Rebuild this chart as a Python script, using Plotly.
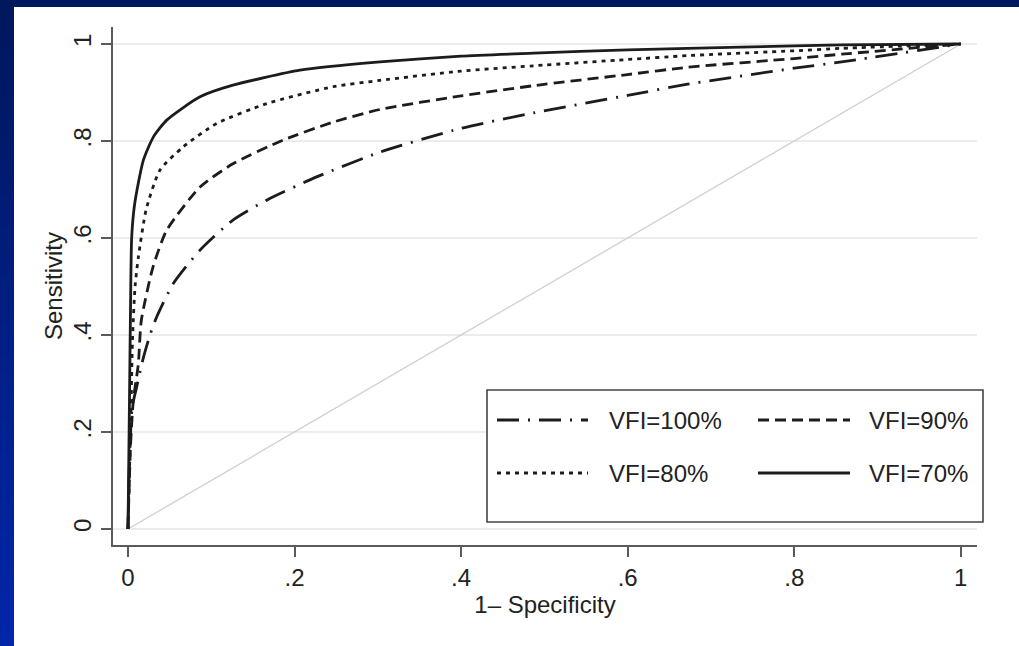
import plotly.graph_objects as go

# ---------------- data ----------------
tick_vals = [0, 0.2, 0.4, 0.6, 0.8, 1]
tick_text = ["0", ".2", ".4", ".6", ".8", "1"]

series_names = ["VFI=100%", "VFI=90%", "VFI=80%", "VFI=70%"]

fpr_100 = [0, 0.002, 0.005, 0.0104, 0.018, 0.0264, 0.0344, 0.0544, 0.0865, 0.126,
           0.1666, 0.2266, 0.3026, 0.40, 0.487, 0.60, 0.672, 0.80, 0.857, 1.0]
tpr_100 = [0, 0.15, 0.25, 0.293, 0.35, 0.40, 0.437, 0.506, 0.575, 0.637,
           0.678, 0.726, 0.777, 0.826, 0.858, 0.894, 0.917, 0.950, 0.963, 1.0]

fpr_90 = [0, 0.003, 0.0064, 0.0124, 0.016, 0.03, 0.0465, 0.0865, 0.126, 0.1865,
          0.2466, 0.3026, 0.40, 0.487, 0.60, 0.672, 0.80, 0.857, 1.0]
tpr_90 = [0, 0.17, 0.265, 0.34, 0.43, 0.54, 0.616, 0.705, 0.753, 0.802,
          0.839, 0.865, 0.893, 0.914, 0.937, 0.952, 0.970, 0.979, 1.0]

fpr_80 = [0, 0.003, 0.0056, 0.0085, 0.0124, 0.022, 0.0384, 0.0664, 0.1065, 0.1666,
          0.2466, 0.3026, 0.40, 0.487, 0.60, 0.672, 0.80, 0.857, 1.0]
tpr_80 = [0, 0.20, 0.40, 0.50, 0.56, 0.66, 0.74, 0.788, 0.836, 0.877,
          0.912, 0.925, 0.944, 0.955, 0.968, 0.976, 0.986, 0.991, 1.0]

fpr_70 = [0, 0.002, 0.003, 0.0044, 0.008, 0.0184, 0.0304, 0.0465, 0.0865, 0.126,
          0.2066, 0.3026, 0.40, 0.487, 0.60, 0.672, 0.80, 0.857, 1.0]
tpr_70 = [0, 0.30, 0.45, 0.60, 0.67, 0.76, 0.808, 0.843, 0.891, 0.915,
          0.946, 0.963, 0.975, 0.981, 0.988, 0.991, 0.996, 0.998, 1.0]

ref_x = [0, 1]
ref_y = [0, 1]

# ---------------- styling ----------------
FONT = "Liberation Sans, Arial, Helvetica, sans-serif"
INK = "#1c1c1c"
dashes = {
    "VFI=100%": "22px,9px,2px,9px",
    "VFI=90%": "11px,6px",
    "VFI=80%": "4px,5px",
    "VFI=70%": "solid",
}

W, H = 1019, 646
ML, MR, MT, MB = 113, 42, 27, 101
PW, PH = W - ML - MR, H - MT - MB


def px_x(p):
    return (p - ML) / PW


def px_y(p):
    return (H - MB - p) / PH


fig = go.Figure()

fig.add_trace(go.Scatter(x=ref_x, y=ref_y, mode="lines",
                         line=dict(color="#cfcfcf", width=1.3),
                         showlegend=False, hoverinfo="skip"))

curves = [(fpr_100, tpr_100, "VFI=100%"), (fpr_90, tpr_90, "VFI=90%"),
          (fpr_80, tpr_80, "VFI=80%"), (fpr_70, tpr_70, "VFI=70%")]
for xs, ys, name in curves:
    fig.add_trace(go.Scatter(x=xs, y=ys, mode="lines", name=name,
                             line=dict(color=INK, width=2.8, dash=dashes[name],
                                       shape="spline", smoothing=0.6),
                             showlegend=False))

shapes = []
# blue frame (stepped gradient) on left and top edges; segments overlap to avoid seams
n = 40
seg = H / n
for i in range(n):
    t = i / (n - 1)
    r, g, b = 0, int(24 + t * 14), int(92 + t * 78)
    shapes.append(dict(type="rect", xref="paper", yref="paper",
                       x0=px_x(0), x1=px_x(14),
                       y0=px_y(min(H, seg * (i + 1) + 3)), y1=px_y(seg * i),
                       fillcolor=f"rgb({r},{g},{b})", line=dict(width=0),
                       layer="below"))
shapes.append(dict(type="rect", xref="paper", yref="paper",
                   x0=px_x(0), x1=px_x(W), y0=px_y(7), y1=px_y(0),
                   fillcolor="rgb(0,24,92)", line=dict(width=0), layer="below"))

# legend box
shapes.append(dict(type="rect", xref="paper", yref="paper",
                   x0=px_x(487), x1=px_x(983), y0=px_y(522), y1=px_y(390),
                   fillcolor="white", line=dict(color="#444444", width=1.6),
                   layer="above"))

legend_layout = [("VFI=100%", 497, 588, 607, 420), ("VFI=90%", 758, 850, 867, 420),
                 ("VFI=80%", 497, 588, 607, 473), ("VFI=70%", 758, 850, 867, 473)]
annotations = []
for name, lx0, lx1, tx, ty in legend_layout:
    shapes.append(dict(type="line", xref="paper", yref="paper",
                       x0=px_x(lx0), x1=px_x(lx1), y0=px_y(ty), y1=px_y(ty),
                       line=dict(color=INK, width=2.8, dash=dashes[name]),
                       layer="above"))
    annotations.append(dict(xref="paper", yref="paper", x=px_x(tx), y=px_y(ty),
                            text=name, showarrow=False, xanchor="left",
                            yanchor="middle",
                            font=dict(family=FONT, size=24, color="#222222")))

fig.update_layout(
    width=W, height=H,
    margin=dict(l=ML, r=MR, t=MT, b=MB),
    paper_bgcolor="white", plot_bgcolor="white",
    font=dict(family=FONT, size=24, color="#222222"),
    shapes=shapes, annotations=annotations,
    showlegend=False,
)

fig.update_xaxes(
    range=[-0.018, 1.0195], tickvals=tick_vals, ticktext=tick_text,
    showgrid=False, zeroline=False,
    showline=True, linecolor="#5a5a5a", linewidth=2,
    ticks="outside", ticklen=10, tickwidth=1.5, tickcolor="#5a5a5a",
    tickfont=dict(family=FONT, size=24, color="#222222"),
    title=dict(text="1– Specificity", font=dict(family=FONT, size=24, color="#222222"),
               standoff=6),
)
fig.update_yaxes(
    range=[-0.033, 1.035], tickvals=tick_vals, ticktext=tick_text,
    showgrid=True, gridcolor="#ececec", gridwidth=1.5, zeroline=False,
    showline=True, linecolor="#5a5a5a", linewidth=2,
    ticks="outside", ticklen=10, tickwidth=1.5, tickcolor="#5a5a5a",
    tickangle=-90,
    tickfont=dict(family=FONT, size=24, color="#222222"),
    title=dict(text="Sensitivity", font=dict(family=FONT, size=24, color="#222222"),
               standoff=0),
)

fig.write_html(
    "out.html",
    config={"displayModeBar": False},
    post_script="document.body.style.margin='0';document.body.style.overflow='hidden';",
)
